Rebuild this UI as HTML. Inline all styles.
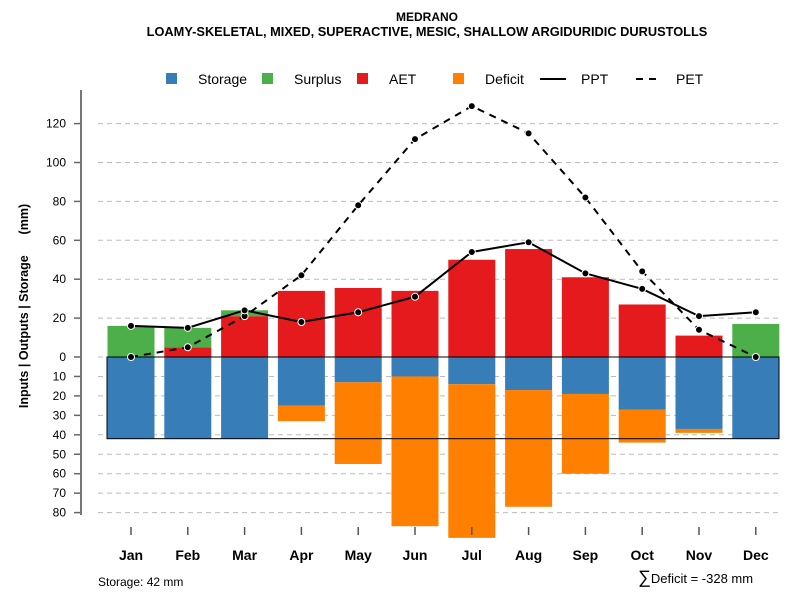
<!DOCTYPE html>
<html><head><meta charset="utf-8"><style>
body{margin:0;background:#fff}
svg{font-family:"Liberation Sans",sans-serif}
</style></head><body>
<svg id="c" width="800" height="600" xmlns="http://www.w3.org/2000/svg">
<text x="427" y="21" text-anchor="middle" font-size="12" font-weight="bold">MEDRANO</text>
<text x="427" y="36" text-anchor="middle" font-size="12.8" font-weight="bold">LOAMY-SKELETAL, MIXED, SUPERACTIVE, MESIC, SHALLOW ARGIDURIDIC DURUSTOLLS</text>
<text transform="translate(28,306) rotate(-90)" text-anchor="middle" font-size="12.5" font-weight="bold" xml:space="preserve">Inputs | Outputs | Storage      (mm)</text>
<g id="legend">
<rect x="166" y="73" width="11" height="11" fill="#377eb8"/>
<text x="198" y="84" font-size="14">Storage</text>
<rect x="262" y="73" width="11" height="11" fill="#4daf4a"/>
<text x="294" y="84" font-size="14">Surplus</text>
<rect x="357" y="73" width="11" height="11" fill="#e41a1c"/>
<text x="389" y="84" font-size="14">AET</text>
<rect x="453" y="73" width="11" height="11" fill="#ff7f00"/>
<text x="485" y="84" font-size="14">Deficit</text>
<line x1="540" y1="79" x2="566" y2="79" stroke="#000" stroke-width="2"/>
<text x="581" y="84" font-size="14">PPT</text>
<line x1="636" y1="79" x2="662" y2="79" stroke="#000" stroke-width="2" stroke-dasharray="7,6"/>
<text x="676" y="84" font-size="14">PET</text>
</g>
<text x="98" y="586" font-size="12">Storage: 42 mm</text>
<text x="638" y="583" font-size="13"><tspan font-size="18">∑</tspan>Deficit = -328 mm</text>
</svg>
<script>
const months=["Jan","Feb","Mar","Apr","May","Jun","Jul","Aug","Sep","Oct","Nov","Dec"];
const storage=[42,42,42,25,13,10,14,17,19,27,37,42];
const deficit=[0,0,0,8,42,77,79,60,41,17,2,0];
const aet=[0,5,21,34,35.5,34,50,55.5,41,27,11,0];
const surplus=[16,10,3,0,0,0,0,0,0,0,0,17];
const ppt=[16,15,24,18,23,31,54,59,43,35,21,23];
const pet=[0,5,21,42,78,112,129,115,82,44,14,0];
const posTicks=[0,20,40,60,80,100,120];
const negTicks=[10,20,30,40,50,60,70,80];
const NS="http://www.w3.org/2000/svg";
const svg=document.getElementById("c");
const y=v=>357-v*1.945;
const x=i=>131+i*56.8;
const BW=47;
function mk(t,a,p){const e=document.createElementNS(NS,t);for(const k in a)e.setAttribute(k,a[k]);(p||svg).appendChild(e);return e;}
const grid=mk("g",{});


posTicks.concat(negTicks.map(v=>-v)).forEach(v=>{
  const l=mk("line",{x1:98,x2:780,y1:y(v),y2:y(v),stroke:"#bbb","stroke-dasharray":"5,4"},grid);
  
  
  const t=mk("text",{x:66,y:y(v)+4,"text-anchor":"end","font-size":"12"});
  t.textContent=Math.abs(v);
  
  
  const tk=mk("line",{x1:74,x2:81,y1:y(v),y2:y(v),stroke:"#666","stroke-width":1.5});
  
  
});
const ax=mk("line",{x1:81,x2:81,y1:90,y2:515,stroke:"#777","stroke-width":2});


months.forEach((m,i)=>{
  const bx=x(i)-BW/2;
  const s=mk("rect",{x:bx,y:y(0),width:BW,height:y(-storage[i])-y(0),fill:"#377eb8"});
  
  
  if(deficit[i]>0){const d=mk("rect",{x:bx,y:y(-storage[i]),width:BW,height:y(-storage[i]-deficit[i])-y(-storage[i]),fill:"#ff7f00"});
  
  }
  if(aet[i]>0){const a=mk("rect",{x:bx,y:y(aet[i]),width:BW,height:y(0)-y(aet[i]),fill:"#e41a1c"});
  
  }
  if(surplus[i]>0){const g=mk("rect",{x:bx,y:y(aet[i]+surplus[i]),width:BW,height:y(aet[i])-y(aet[i]+surplus[i]),fill:"#4daf4a"});
  
  }
  const tk=mk("line",{x1:x(i),x2:x(i),y1:527,y2:535,stroke:"#555","stroke-width":1.5});
  
  
  const t=mk("text",{x:x(i),y:560,"text-anchor":"middle","font-size":"14","font-weight":"bold"});
  t.textContent=m;
  
  
});
const zl=mk("line",{x1:107,x2:779,y1:y(0),y2:y(0),stroke:"#000"});


const sb=mk("rect",{x:107,y:y(0),width:672,height:y(-42)-y(0),fill:"none",stroke:"#000"});


function series(vals,name,dash){
  const p=mk("polyline",{points:vals.map((v,i)=>x(i)+","+y(v)).join(" "),fill:"none",stroke:"#000","stroke-width":2,"stroke-dasharray":dash});
  
  
  vals.forEach((v,i)=>{const c=mk("circle",{cx:x(i),cy:y(v),r:3.5,fill:"#000",stroke:"#fff","stroke-width":1});
  
  });
}
series(pet,"pet","7,6");
series(ppt,"ppt","none");
</script>
</body></html>
